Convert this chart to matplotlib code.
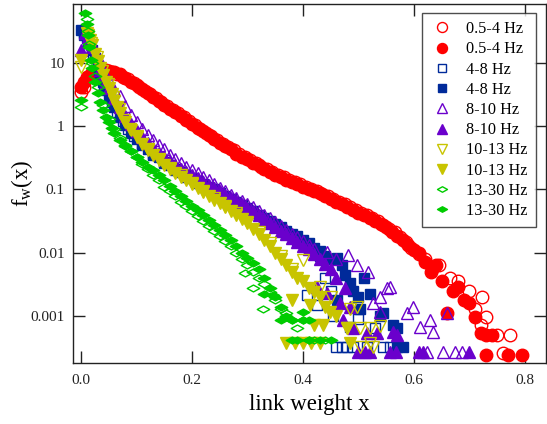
import numpy as np
import matplotlib
matplotlib.use("Agg")
import matplotlib.pyplot as plt
from matplotlib.path import Path

plt.rcParams['font.family'] = ['Liberation Serif', 'DejaVu Serif']
plt.rcParams['mathtext.fontset'] = 'custom'
plt.rcParams['mathtext.rm'] = 'Liberation Serif'
plt.rcParams['mathtext.it'] = 'Liberation Serif:italic'

# 0.5-4 Hz
red_open_x = [0.0, 0.005, 0.015, 0.025, 0.035, 0.045, 0.055, 0.065, 0.075, 0.085, 0.095, 0.105, 0.115,
              0.125, 0.135, 0.145, 0.155, 0.165, 0.175, 0.185, 0.195, 0.205, 0.215, 0.225, 0.235, 0.245,
              0.255, 0.265, 0.275, 0.285, 0.295, 0.305, 0.315, 0.325, 0.335, 0.345, 0.355, 0.365, 0.375,
              0.385, 0.395, 0.405, 0.415, 0.425, 0.435, 0.445, 0.455, 0.465, 0.475, 0.485, 0.495, 0.505,
              0.515, 0.525, 0.535, 0.545, 0.555, 0.565, 0.575, 0.585, 0.595, 0.61, 0.62, 0.633, 0.645,
              0.665, 0.68, 0.70, 0.723, 0.73, 0.72, 0.75, 0.773, 0.76, 0.71]
red_open_y = [3.5, 4.2, 6.3, 7.2, 8.3, 7.9, 7.2, 6.8, 6.0, 5.5, 4.8, 4.2, 3.6,
              3.2, 2.75, 2.4, 2.1, 1.8, 1.6, 1.38, 1.2, 1.05, 0.91, 0.79, 0.69, 0.6,
              0.52, 0.47, 0.42, 0.37, 0.32, 0.29, 0.26, 0.23, 0.21, 0.19, 0.17, 0.155, 0.14,
              0.13, 0.12, 0.11, 0.10, 0.093, 0.085, 0.078, 0.071, 0.063, 0.058, 0.052, 0.048, 0.043,
              0.039, 0.035, 0.032, 0.0275, 0.024, 0.021, 0.0174, 0.0145, 0.012, 0.0095, 0.0079, 0.0056, 0.0063,
              0.004, 0.0035, 0.0025, 0.002, 0.00095, 0.00071, 0.0005, 0.0005, 0.00026, 0.00126]
red_fill_x = [0.0, 0.005, 0.01, 0.02, 0.03, 0.04, 0.05, 0.06, 0.07, 0.08, 0.09, 0.10, 0.11, 0.12,
              0.13, 0.14, 0.15, 0.16, 0.17, 0.18, 0.19, 0.20, 0.21, 0.22, 0.23, 0.24, 0.25, 0.26,
              0.27, 0.28, 0.29, 0.30, 0.31, 0.32, 0.33, 0.34, 0.35, 0.36, 0.37, 0.38, 0.39, 0.40,
              0.41, 0.42, 0.43, 0.44, 0.45, 0.46, 0.47, 0.48, 0.49, 0.50, 0.51, 0.52, 0.53, 0.54,
              0.55, 0.56, 0.57, 0.58, 0.59, 0.60, 0.61, 0.62, 0.63, 0.64, 0.65, 0.66, 0.67, 0.68,
              0.69, 0.70, 0.71, 0.72, 0.73, 0.74, 0.73, 0.77, 0.795]
red_fill_y = [4.2, 5.0, 6.0, 7.1, 7.6, 7.9, 7.6, 7.2, 6.6, 5.8, 5.0, 4.5, 3.9, 3.3,
              2.9, 2.5, 2.2, 1.9, 1.66, 1.45, 1.26, 1.1, 0.95, 0.83, 0.72, 0.63, 0.55, 0.48,
              0.43, 0.37, 0.33, 0.30, 0.26, 0.24, 0.21, 0.19, 0.17, 0.155, 0.14, 0.13, 0.12, 0.11,
              0.10, 0.093, 0.087, 0.078, 0.071, 0.063, 0.058, 0.052, 0.047, 0.043, 0.039, 0.035, 0.032, 0.028,
              0.025, 0.021, 0.018, 0.016, 0.013, 0.011, 0.01, 0.0071, 0.005, 0.0063, 0.0035, 0.00112, 0.0025, 0.0029,
              0.0018, 0.0016, 0.00095, 0.00054, 0.0005, 0.0005, 0.00024, 0.00024, 0.00024]

# 4-8 Hz
blue_open_x = [0.005, 0.012, 0.022, 0.032, 0.042, 0.052, 0.065, 0.075, 0.085, 0.095, 0.11, 0.13, 0.15,
               0.17, 0.19, 0.21, 0.23, 0.25, 0.27, 0.29, 0.31, 0.33, 0.35, 0.37, 0.39, 0.41, 0.43,
               0.407, 0.425, 0.454, 0.44, 0.45, 0.46, 0.47, 0.48, 0.49, 0.515, 0.544, 0.557, 0.53, 0.50]
blue_open_y = [28, 22, 14, 7.9, 4.5, 2.75, 1.66, 1.2, 0.91, 0.71, 0.5, 0.35, 0.26,
               0.2, 0.16, 0.126, 0.102, 0.083, 0.066, 0.052, 0.042, 0.033, 0.026, 0.02, 0.016, 0.012, 0.0089,
               0.0021, 0.0015, 0.001, 0.004, 0.0025, 0.00032, 0.00032, 0.00032, 0.00032, 0.00032, 0.00032, 0.00032,
               0.00063, 0.00089]
blue_fill_x = [0.0, 0.005, 0.01, 0.015, 0.02, 0.025, 0.03, 0.035, 0.04, 0.045, 0.05, 0.055, 0.06, 0.07,
               0.08, 0.09, 0.10, 0.11, 0.12, 0.13, 0.14, 0.15, 0.16, 0.17, 0.18, 0.19, 0.20, 0.21, 0.22,
               0.23, 0.24, 0.25, 0.26, 0.27, 0.28, 0.29, 0.30, 0.31, 0.32, 0.33, 0.34, 0.35, 0.36, 0.37,
               0.38, 0.39, 0.40, 0.41, 0.42, 0.43, 0.44, 0.45, 0.461, 0.47, 0.475, 0.485, 0.49, 0.461,
               0.50, 0.503, 0.485, 0.51, 0.52, 0.539, 0.544, 0.569, 0.562, 0.569, 0.58]
blue_fill_y = [33, 30, 25, 21, 16, 12, 8.9, 6.6, 5.0, 3.8, 3.0, 2.4, 2.0, 1.4,
               1.05, 0.79, 0.63, 0.52, 0.44, 0.37, 0.32, 0.275, 0.24, 0.21, 0.19, 0.17, 0.15, 0.135, 0.12,
               0.11, 0.1, 0.089, 0.079, 0.071, 0.063, 0.056, 0.05, 0.045, 0.04, 0.035, 0.032, 0.028, 0.025, 0.022,
               0.02, 0.018, 0.016, 0.014, 0.012, 0.0105, 0.0089, 0.0079, 0.0081, 0.0063, 0.0045, 0.0033, 0.0025, 0.0018,
               0.002, 0.0013, 0.00066, 0.004, 0.0022, 0.001, 0.0011, 0.00063, 0.00071, 0.00032, 0.00032]

# 8-10 Hz
purple_open_x = [0.01, 0.015, 0.02, 0.03, 0.04, 0.05, 0.06, 0.07, 0.08, 0.09, 0.10, 0.11, 0.12, 0.13,
                 0.14, 0.15, 0.16, 0.17, 0.18, 0.19, 0.20, 0.21, 0.22, 0.23, 0.24, 0.25, 0.26, 0.27,
                 0.28, 0.29, 0.30, 0.31, 0.32, 0.33, 0.34, 0.35, 0.36, 0.37, 0.38, 0.39, 0.40, 0.41,
                 0.42, 0.443, 0.46, 0.482, 0.497, 0.517, 0.551, 0.539, 0.526, 0.557, 0.598, 0.587, 0.611,
                 0.629, 0.634, 0.659, 0.539, 0.623, 0.652, 0.674, 0.686]
purple_open_y = [32, 25, 20, 12.6, 7.9, 5.2, 3.8, 3.0, 2.1, 1.5, 1.15, 0.89, 0.72, 0.6,
                 0.5, 0.43, 0.35, 0.3, 0.26, 0.23, 0.2, 0.18, 0.16, 0.14, 0.12, 0.105, 0.093, 0.083,
                 0.074, 0.066, 0.059, 0.052, 0.046, 0.04, 0.035, 0.03, 0.026, 0.023, 0.02, 0.0174, 0.015, 0.013,
                 0.0115, 0.0102, 0.0079, 0.0091, 0.0063, 0.005, 0.0028, 0.002, 0.0016, 0.0029, 0.0014, 0.0011, 0.00066,
                 0.00085, 0.00056, 0.0011, 0.00115, 0.00027, 0.00027, 0.00027, 0.00027]
purple_fill_x = [0.0, 0.008, 0.012, 0.016, 0.02, 0.025, 0.03, 0.035, 0.04, 0.045, 0.05, 0.06, 0.07, 0.08,
                 0.09, 0.10, 0.11, 0.12, 0.13, 0.14, 0.15, 0.16, 0.17, 0.18, 0.19, 0.20, 0.21, 0.22,
                 0.23, 0.24, 0.25, 0.26, 0.27, 0.28, 0.29, 0.30, 0.31, 0.32, 0.33, 0.34, 0.35, 0.36,
                 0.37, 0.38, 0.39, 0.40, 0.41, 0.42, 0.43, 0.44, 0.45, 0.425, 0.443, 0.467, 0.485, 0.472,
                 0.46, 0.475, 0.515, 0.533, 0.562, 0.569, 0.49, 0.50, 0.511, 0.52, 0.557, 0.568, 0.61,
                 0.617, 0.70]
purple_fill_y = [16, 30, 26, 22, 18, 14, 10.5, 7.9, 6.3, 5.0, 4.0, 2.75, 2.0, 1.45,
                 1.1, 0.85, 0.68, 0.55, 0.46, 0.38, 0.32, 0.28, 0.245, 0.21, 0.19, 0.17, 0.15, 0.13,
                 0.117, 0.105, 0.093, 0.083, 0.074, 0.066, 0.059, 0.051, 0.045, 0.039, 0.034, 0.0295, 0.0257, 0.022,
                 0.0195, 0.017, 0.0148, 0.0129, 0.0112, 0.0095, 0.0079, 0.0066, 0.0055, 0.0029, 0.0023, 0.0016, 0.0014, 0.00085,
                 0.004, 0.0028, 0.00054, 0.00054, 0.00056, 0.0005, 0.00063, 0.00027, 0.00027, 0.00027, 0.00027, 0.00027, 0.00027,
                 0.00027, 0.00027]

# 10-13 Hz
yellow_open_x = [0.0, 0.012, 0.018, 0.028, 0.038, 0.048, 0.058, 0.068, 0.078, 0.088, 0.10, 0.12, 0.14,
                 0.16, 0.18, 0.20, 0.22, 0.24, 0.26, 0.28, 0.30, 0.32, 0.34, 0.36, 0.38, 0.40, 0.43,
                 0.485, 0.497, 0.479, 0.503, 0.52, 0.539, 0.503, 0.526, 0.52, 0.45]
yellow_open_y = [8.7, 28, 21, 12.6, 7.6, 4.6, 2.9, 1.86, 1.26, 0.91, 0.69, 0.43, 0.3,
                 0.22, 0.166, 0.126, 0.095, 0.072, 0.055, 0.042, 0.03, 0.021, 0.014, 0.0089, 0.0056, 0.0076, 0.0029,
                 0.0013, 0.0014, 0.00065, 0.00065, 0.00065, 0.00068, 0.00032, 0.00032, 0.00037, 0.002]
yellow_fill_x = [0.0, 0.01, 0.013, 0.016, 0.02, 0.025, 0.03, 0.035, 0.04, 0.045, 0.05, 0.055, 0.06, 0.065,
                 0.07, 0.08, 0.09, 0.10, 0.11, 0.12, 0.13, 0.14, 0.15, 0.16, 0.17, 0.18, 0.19, 0.20,
                 0.21, 0.22, 0.23, 0.24, 0.25, 0.26, 0.27, 0.28, 0.29, 0.30, 0.31, 0.32, 0.33, 0.34,
                 0.35, 0.36, 0.37, 0.38, 0.39, 0.40, 0.41, 0.42, 0.43, 0.413, 0.44, 0.449, 0.38, 0.436,
                 0.42, 0.479, 0.46, 0.37, 0.385, 0.40, 0.415, 0.43, 0.485]
yellow_fill_y = [11, 30, 26, 23, 19, 14, 10.7, 8.3, 6.5, 5.0, 4.0, 3.2, 2.5, 2.0,
                 1.6, 1.15, 0.87, 0.68, 0.52, 0.42, 0.35, 0.29, 0.245, 0.21, 0.18, 0.16, 0.14, 0.12,
                 0.105, 0.091, 0.079, 0.069, 0.06, 0.052, 0.046, 0.04, 0.034, 0.029, 0.024, 0.02, 0.016, 0.0126,
                 0.01, 0.0079, 0.0063, 0.005, 0.004, 0.0035, 0.0028, 0.0024, 0.002, 0.0015, 0.0014, 0.00115, 0.0018, 0.00071,
                 0.00071, 0.00065, 0.001, 0.00037, 0.00037, 0.00037, 0.00037, 0.00037, 0.00037]

# 13-30 Hz
green_open_x = [0.0, 0.01, 0.012, 0.015, 0.02, 0.025, 0.03, 0.04, 0.05, 0.06, 0.07, 0.08, 0.09, 0.10,
                0.11, 0.12, 0.13, 0.14, 0.15, 0.16, 0.17, 0.18, 0.19, 0.20, 0.21, 0.22, 0.23, 0.24,
                0.25, 0.26, 0.27, 0.28, 0.29, 0.30, 0.31, 0.32, 0.33, 0.34, 0.35, 0.36, 0.37, 0.38,
                0.39, 0.40, 0.41, 0.42, 0.328, 0.31, 0.44, 0.295]
green_open_y = [2.0, 50, 32, 20, 10, 6.3, 4.2, 2.2, 1.3, 0.89, 0.66, 0.5, 0.4, 0.32,
                0.25, 0.21, 0.166, 0.14, 0.11, 0.095, 0.079, 0.063, 0.054, 0.045, 0.038, 0.032, 0.026, 0.022,
                0.018, 0.015, 0.0126, 0.01, 0.0079, 0.0063, 0.005, 0.004, 0.0032, 0.0024, 0.0018, 0.00126, 0.00112, 0.00085,
                0.00063, 0.00085, 0.00042, 0.00042, 0.00126, 0.0028, 0.00042, 0.0047]
green_fill_x = [0.0, 0.008, 0.01, 0.012, 0.015, 0.018, 0.02, 0.025, 0.03, 0.035, 0.04, 0.045, 0.05, 0.055,
                0.06, 0.07, 0.08, 0.09, 0.10, 0.11, 0.12, 0.13, 0.14, 0.15, 0.16, 0.17, 0.18, 0.19,
                0.20, 0.21, 0.22, 0.23, 0.24, 0.25, 0.26, 0.27, 0.28, 0.29, 0.30, 0.31, 0.32, 0.33,
                0.34, 0.35, 0.36, 0.37, 0.38, 0.40, 0.33, 0.346, 0.36, 0.38, 0.39, 0.41, 0.43, 0.45,
                0.40, 0.41]
green_fill_y = [2.6, 62, 42, 28, 18, 11, 8.3, 5.0, 3.3, 2.4, 1.8, 1.4, 1.15, 0.95,
                0.79, 0.6, 0.48, 0.4, 0.33, 0.275, 0.23, 0.2, 0.166, 0.14, 0.115, 0.095, 0.079, 0.066,
                0.055, 0.047, 0.04, 0.033, 0.0275, 0.023, 0.019, 0.016, 0.0126, 0.01, 0.0083, 0.0069, 0.0055, 0.004,
                0.0028, 0.002, 0.0014, 0.001, 0.00085, 0.00085, 0.0022, 0.0021, 0.00085, 0.00042, 0.00042, 0.00042, 0.00042, 0.00042,
                0.00115, 0.00085]

labels = ['0.5-4 Hz', '0.5-4 Hz', '4-8 Hz', '4-8 Hz', '8-10 Hz', '8-10 Hz',
          '10-13 Hz', '10-13 Hz', '13-30 Hz', '13-30 Hz']

# flat diamond used for the 13-30 Hz band
flat_diamond = Path([(-1, 0), (0, 0.55), (1, 0), (0, -0.55), (-1, 0)],
                    [Path.MOVETO, Path.LINETO, Path.LINETO, Path.LINETO, Path.CLOSEPOLY])

series = [
    (red_open_x, red_open_y, 'o', '#ff0000', False, 9.0),
    (red_fill_x, red_fill_y, 'o', '#ff0000', True, 9.0),
    (blue_open_x, blue_open_y, 's', '#002a9a', False, 7.5),
    (blue_fill_x, blue_fill_y, 's', '#002a9a', True, 7.5),
    (purple_open_x, purple_open_y, '^', '#6a00cc', False, 9.0),
    (purple_fill_x, purple_fill_y, '^', '#6a00cc', True, 9.0),
    (yellow_open_x, yellow_open_y, 'v', '#c8c400', False, 9.0),
    (yellow_fill_x, yellow_fill_y, 'v', '#c8c400', True, 9.0),
    (green_open_x, green_open_y, flat_diamond, '#00cc00', False, 9.0),
    (green_fill_x, green_fill_y, flat_diamond, '#00cc00', True, 9.0),
]

fig = plt.figure(figsize=(5.47, 4.24), dpi=100)
ax = fig.add_axes([0.1335, 0.1439, 0.8647, 0.8467])

for (xs, ys, mk, col, filled, ms), lab in zip(series, labels):
    ax.plot(xs, ys, linestyle='none', marker=mk, markersize=ms,
            markeredgecolor=col, markerfacecolor=col if filled else 'none',
            markeredgewidth=1.0, label=lab)

ax.set_yscale('log')
ax.set_xlim(-0.0144, 0.838)
ax.set_ylim(1.79e-4, 86)

ax.set_xticks([0.0, 0.2, 0.4, 0.6, 0.8])
ax.set_xticklabels(['0.0', '0.2', '0.4', '0.6', '0.8'])
ax.set_yticks([10, 1, 0.1, 0.01, 0.001])
ax.set_yticklabels(['10', '1', '0.1', '0.01', '0.001'])
ax.minorticks_off()
ax.tick_params(direction='in', length=8.5, width=1.0, top=True, right=True,
               labelsize=11, colors='#222222')
ax.tick_params(axis='x', pad=8)
ax.tick_params(axis='y', pad=6)
for sp in ax.spines.values():
    sp.set_linewidth(1.0)
    sp.set_color('#222222')

ax.set_xlabel('link weight x', fontsize=16.5, labelpad=5)
ax.set_ylabel(r'$\mathrm{f_w(x)}$', fontsize=16.5, labelpad=-3)

# legend markers are drawn a bit smaller than the data markers
leg = ax.legend(loc='upper left', bbox_to_anchor=(422 / 547, 1 - 13 / 424),
                bbox_transform=fig.transFigure, fontsize=11.7, frameon=True,
                fancybox=False, borderpad=0.5, labelspacing=0.26,
                handlelength=1.4, handletextpad=0.8, borderaxespad=0.0,
                markerscale=0.8)
leg.get_frame().set_edgecolor('#222222')
leg.get_frame().set_linewidth(1.0)

fig.savefig('out.png', dpi=100)
